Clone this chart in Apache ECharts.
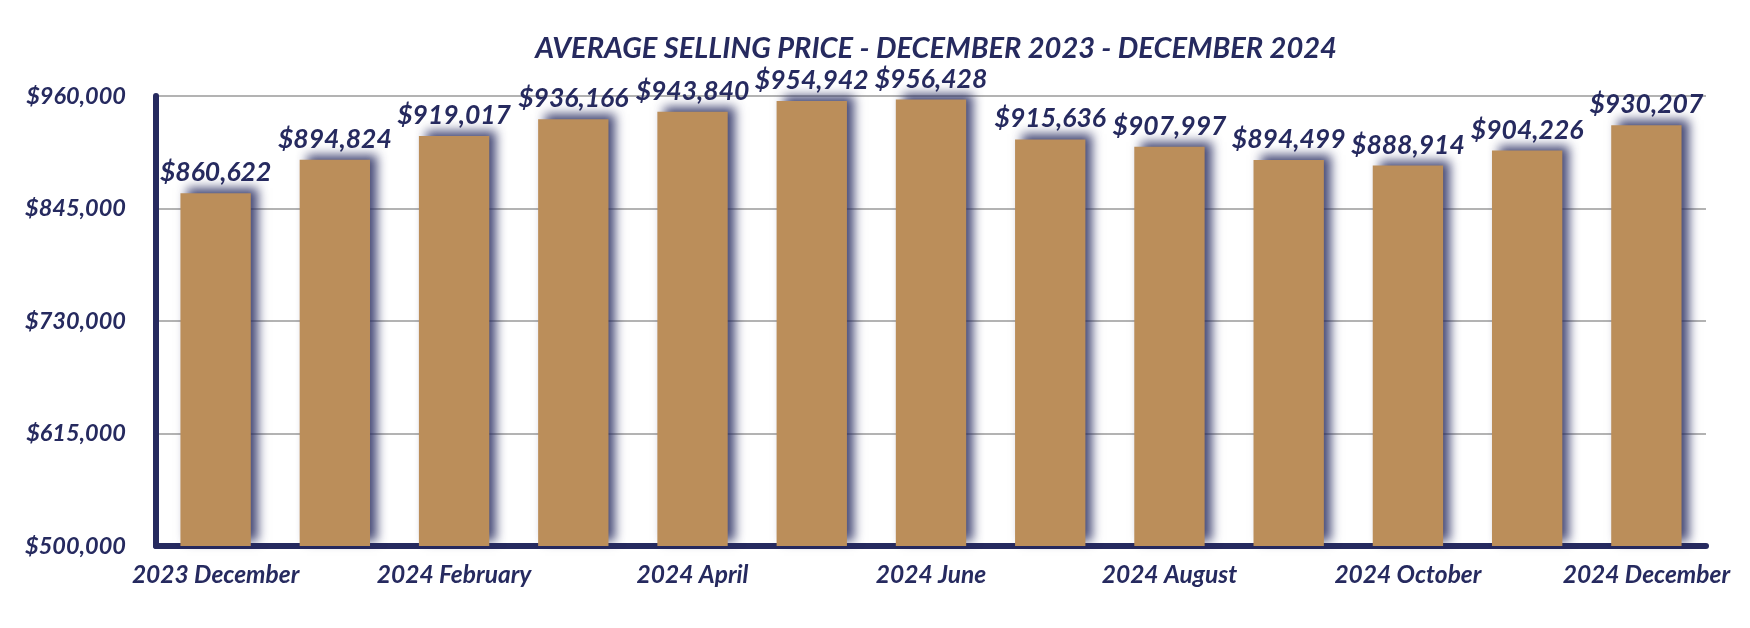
<!DOCTYPE html>
<html>
<head>
<meta charset="utf-8">
<script src="https://cdn.jsdelivr.net/npm/echarts@6/dist/echarts.min.js"></script>
<style>
html,body{margin:0;padding:0;background:#fff;}
#chart{width:1750px;height:628px;}
</style>
</head>
<body>
<div id="chart"></div>
<script>
const titleText = 'AVERAGE SELLING PRICE - DECEMBER 2023 - DECEMBER 2024';
const categories = ['2023 December','2024 January','2024 February','2024 March','2024 April','2024 May','2024 June','2024 July','2024 August','2024 September','2024 October','2024 November','2024 December'];
const prices = [860622, 894824, 919017, 936166, 943840, 954942, 956428, 915636, 907997, 894499, 888914, 904226, 930207];
const yTickValues = [500000, 615000, 730000, 845000, 960000];

const NAVY = '#262a5f';
const FONT = 'Lato, "Open Sans", sans-serif';
const base = yTickValues[0];
const step = yTickValues[1] - yTickValues[0];
const fmt = v => '$' + Math.round(v).toLocaleString('en-US');

const chart = echarts.init(document.getElementById('chart'), null, {renderer: 'canvas'});
chart.setOption({
  animation: false,
  backgroundColor: '#ffffff',
  title: {
    text: titleText,
    left: 931,
    textAlign: 'center',
    top: 29,
    textStyle: {color: NAVY, fontFamily: FONT, fontSize: 29, fontWeight: 'bold', fontStyle: 'italic'}
  },
  grid: {left: 156, right: 44, top: 96, bottom: 82, containLabel: false},
  xAxis: {
    type: 'category',
    data: categories,
    axisLine: {show: true, lineStyle: {color: NAVY, width: 6}},
    axisTick: {show: false},
    axisLabel: {
      interval: 1,
      margin: 17,
      color: NAVY, fontFamily: FONT, fontSize: 24.5, fontWeight: 'bold', fontStyle: 'italic'
    }
  },
  yAxis: {
    type: 'value',
    min: 0,
    max: yTickValues[yTickValues.length - 1] - base,
    interval: step,
    axisLine: {show: true, lineStyle: {color: NAVY, width: 6}},
    axisTick: {show: false},
    splitLine: {show: true, lineStyle: {color: '#b3b3b3', width: 2}},
    axisLabel: {
      margin: 30,
      formatter: v => fmt(v + base),
      color: NAVY, fontFamily: FONT, fontSize: 23.5, fontWeight: 'bold', fontStyle: 'italic'
    }
  },
  series: [{
    type: 'bar',
    barWidth: '59%',
    data: prices.map(p => p - base),
    itemStyle: {
      color: '#bb8e5a',
      shadowColor: 'rgba(38,42,95,0.85)',
      shadowBlur: 10,
      shadowOffsetX: 7,
      shadowOffsetY: -5
    },
    label: {
      show: true,
      position: 'top',
      distance: 7,
      formatter: p => fmt(prices[p.dataIndex]),
      color: NAVY, fontFamily: FONT, fontSize: 26.5, fontWeight: 'bold', fontStyle: 'italic'
    }
  }]
});
</script>
</body>
</html>
